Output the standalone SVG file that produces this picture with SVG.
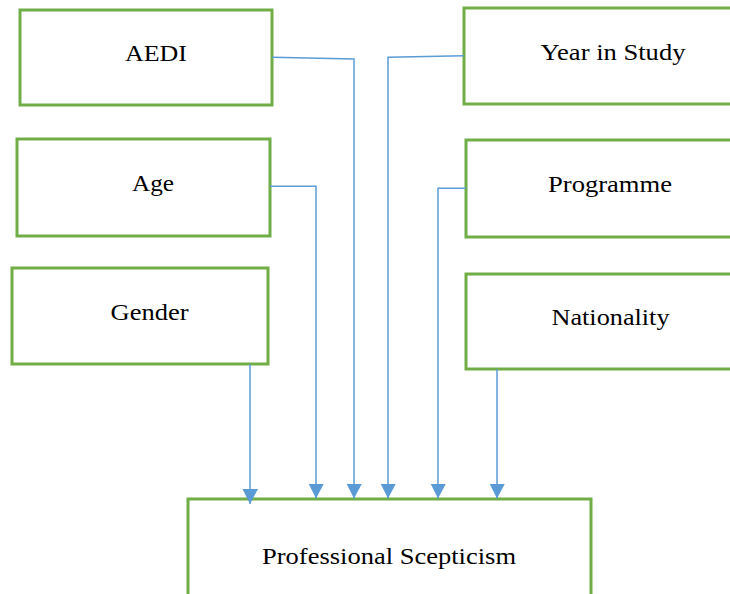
<svg xmlns="http://www.w3.org/2000/svg" width="730" height="594" viewBox="0 0 730 594">
<defs>
<style>
.box{fill:#fff;stroke:#70AD47;stroke-width:3}
.lbl{font-family:"Liberation Serif","Times New Roman",serif;font-size:24px;fill:#000}
.conn{fill:none;stroke:#5B9BD5;stroke-width:1.5}
</style>
<marker id="arr" markerUnits="userSpaceOnUse" markerWidth="16" markerHeight="16" viewBox="0 0 16 16" refX="15" refY="8" orient="auto">
<path d="M0,0 L15,8 L0,15.5 Z" fill="#5B9BD5"/>
</marker>
</defs>
<rect width="730" height="594" fill="#fff"/>
<g id="n-aedi"><rect class="box" x="20" y="10" width="252" height="95"/><text class="lbl" x="125" y="61" textLength="62" lengthAdjust="spacingAndGlyphs">AEDI</text></g>
<g id="n-age"><rect class="box" x="17" y="139" width="253" height="97"/><text class="lbl" x="132" y="191" textLength="42" lengthAdjust="spacingAndGlyphs">Age</text></g>
<g id="n-gender"><rect class="box" x="12" y="268" width="256" height="96"/><text class="lbl" x="110.5" y="319.5" textLength="78" lengthAdjust="spacingAndGlyphs">Gender</text></g>
<g id="n-year"><rect class="box" x="464" y="8" width="272" height="96"/><text class="lbl" x="540.5" y="60" textLength="145" lengthAdjust="spacingAndGlyphs">Year in Study</text></g>
<g id="n-programme"><rect class="box" x="466" y="140" width="270" height="97"/><text class="lbl" x="548" y="192" textLength="124" lengthAdjust="spacingAndGlyphs">Programme</text></g>
<g id="n-nationality"><rect class="box" x="466" y="274" width="270" height="95"/><text class="lbl" x="551.5" y="325" textLength="118" lengthAdjust="spacingAndGlyphs">Nationality</text></g>
<g id="n-ps"><rect class="box" x="188" y="499" width="403" height="110"/><text class="lbl" x="262" y="563.5" textLength="254" lengthAdjust="spacingAndGlyphs">Professional Scepticism</text></g>
<g id="connectors">
<path class="conn" d="M272,57.3 L354,59 L354,498.5" marker-end="url(#arr)"/>
<path class="conn" d="M270,186.3 L316,186.3 L316,498.5" marker-end="url(#arr)"/>
<path class="conn" d="M250,364 L250,504" marker-end="url(#arr)"/>
<path class="conn" d="M464,55.7 L388,57.3 L388,498.5" marker-end="url(#arr)"/>
<path class="conn" d="M466,188.3 L438,188.3 L438,498.5" marker-end="url(#arr)"/>
<path class="conn" d="M497,369 L497,498.5" marker-end="url(#arr)"/>
</g>
</svg>
